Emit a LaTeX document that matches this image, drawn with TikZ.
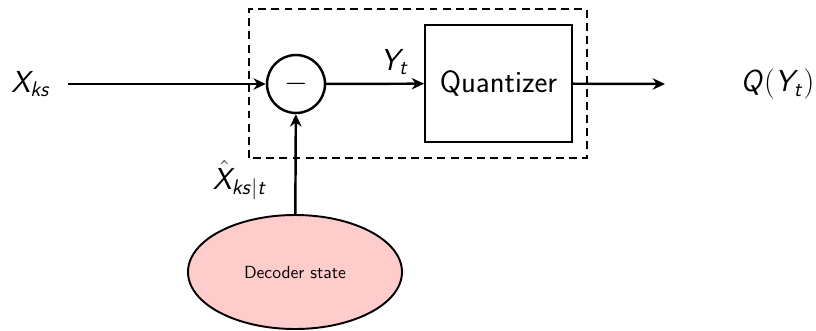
\documentclass[tikz,border=0pt]{standalone}
\usepackage{amsmath}
\renewcommand{\familydefault}{\sfdefault}
\DeclareMathAlphabet{\mathsfit}{OT1}{cmss}{m}{sl}
\newcommand{\sv}[1]{\mathsfit{#1}}
\usepackage{tikz}
\usetikzlibrary{arrows.meta,positioning,shapes.geometric}
\definecolor{StatePink}{HTML}{FFCCCC}

\tikzset{
    sig/.style={-{Stealth[length=7pt,width=6.5pt]}, line width=1.4pt},
    sumnode/.style={circle, draw, line width=1.4pt, minimum size=1.16cm, inner sep=0pt, font=\LARGE},
    blockbox/.style={rectangle, draw, line width=1.1pt, minimum width=2.94cm, minimum height=2.34cm, font=\fontsize{17.5}{21}\selectfont},
    lbl/.style={font=\LARGE}
}

\begin{document}
\begin{tikzpicture}
    \useasboundingbox (0,0) rectangle (16.32,6.6);

    % Input and its label
    \node[lbl] (xks) at (0.62,4.92) {$\sv{X}_{\sv{ks}}$};
    \coordinate (xin) at (1.36,4.92);

    % Difference node
    \node[sumnode] (diff) at (5.92,4.92) {$-$};

    % Quantizer block
    \node[blockbox] (quant) at (9.97,4.93) {Quantizer};

    % Output
    \coordinate (qout) at (13.3,4.92);
    \node[lbl] (qy) at (15.55,4.92) {$\sv{Q}\mathsf{(}\sv{Y}_{\sv{t}}\mathsf{)}$};

    % Decoder state
    \node[ellipse, draw, line width=1.1pt, fill=StatePink, minimum width=4.28cm, minimum height=2.28cm, font=\normalsize] (dec) at (5.9,1.16) {Decoder state};

    % Dashed encoder box
    \draw[line width=1.4pt, dash pattern=on 4.5pt off 3pt] (4.98,3.44) rectangle (11.74,6.42);

    % Signals
    \draw[sig] (xin) -- (diff);
    \draw[sig] (diff) -- node[lbl, pos=0.7, above, yshift=1pt] (yt) {$\sv{Y}_{\sv{t}}$} (quant);
    \draw[sig] (quant) -- (qout);
    \draw[sig] (dec) -- (diff);
    \node[lbl] (xhat) at (4.8,3.0) {$\hat{\sv{X}}_{\sv{ks}|\sv{t}}$};

\end{tikzpicture}
\end{document}
